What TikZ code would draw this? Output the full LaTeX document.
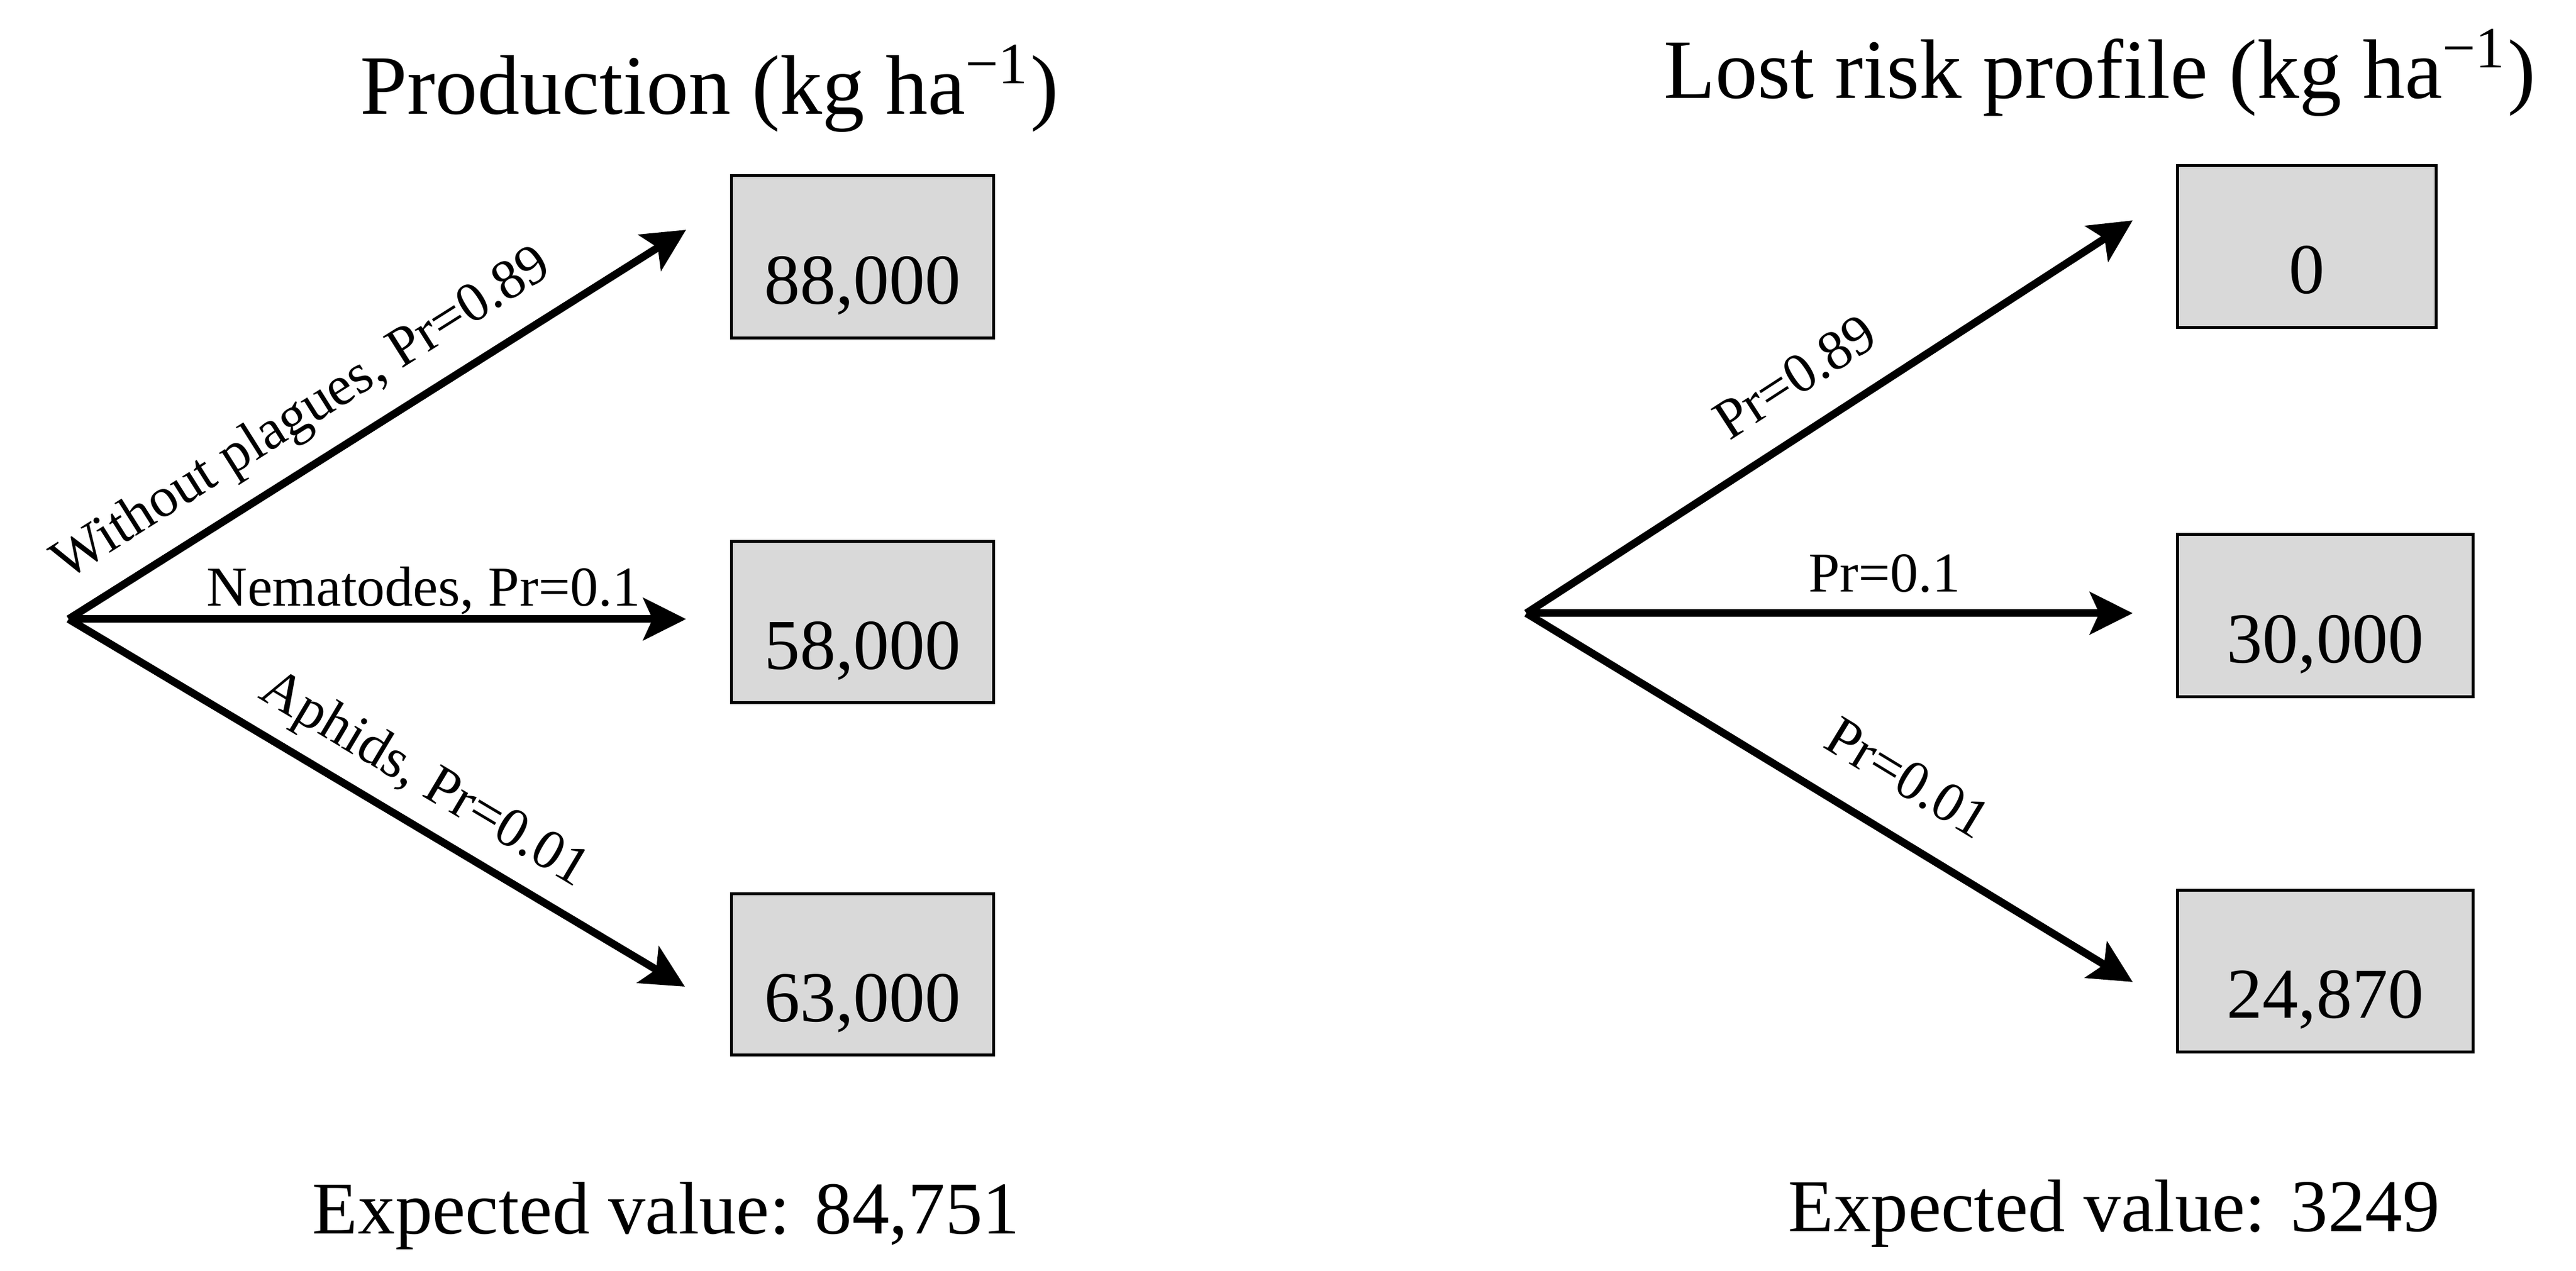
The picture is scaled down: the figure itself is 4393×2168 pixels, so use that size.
\documentclass[tikz,border=0pt]{standalone}
\usepackage{fontspec}
\setmainfont{Liberation Serif}
\usetikzlibrary{arrows.meta}
\definecolor{boxgray}{HTML}{D9D9D9}
\begin{document}
\begin{tikzpicture}[x=0.1pt, y=-0.1pt,
  valbox/.style={draw=black, line width=0.5pt, fill=boxgray, inner sep=0pt,
    text height=17pt, text depth=1pt, font=\fontsize{12.2pt}{14pt}\selectfont},
  branch/.style={line width=1.3pt, -{Stealth[length=7.3pt, width=7.2pt, inset=1.6pt]}},
  blabel/.style={sloped, anchor=base, inner sep=0pt, font=\fontsize{9.6pt}{11pt}\selectfont},
  titletext/.style={anchor=base, inner sep=0pt, font=\fontsize{14.4pt}{17pt}\selectfont},
  evtext/.style={anchor=base, inner sep=0pt, font=\fontsize{12.7pt}{15pt}\selectfont}]
\useasboundingbox (0,0) rectangle (4393,2168);

% ---------- left tree ----------
\node[titletext] (t1) at (1210,195) {Production (kg ha\textsuperscript{\char"2212 1})};
\coordinate (o1) at (117,1056);
\coordinate (a1) at (1170,392);
\coordinate (b1) at (1170,1056);
\coordinate (c1) at (1168,1683);
\node[valbox, minimum width=44.8pt, minimum height=27.7pt] (v11) at (1471,438.5) {88,000};
\node[valbox, minimum width=44.8pt, minimum height=27.5pt] (v12) at (1471,1061.5) {58,000};
\node[valbox, minimum width=44.8pt, minimum height=27.5pt] (v13) at (1471,1662.5) {63,000};
\draw[branch] (o1) -- (a1) node[blabel, pos=0.42, yshift=5.8pt] {Without plagues, Pr=0.89};
\draw[branch] (o1) -- (b1) node[blabel, pos=0.575, yshift=2.2pt] {Nematodes, Pr=0.1};
\draw[branch] (o1) -- (c1) node[blabel, pos=0.54, yshift=5.0pt] {Aphids, Pr=0.01};
\node[evtext] (e1) at (1136,2105) {Expected value: 84,751};

% ---------- right tree ----------
\node[titletext] (t2) at (3581,168) {Lost risk profile (kg ha\textsuperscript{\char"2212 1})};
\coordinate (o2) at (2603,1046);
\coordinate (a2) at (3637,376);
\coordinate (b2) at (3637,1046);
\coordinate (c2) at (3637,1675);
\node[valbox, minimum width=44.2pt, minimum height=27.6pt] (v21) at (3934,421) {0};
\node[valbox, minimum width=50.5pt, minimum height=27.7pt] (v22) at (3965.5,1050.5) {30,000};
\node[valbox, minimum width=50.5pt, minimum height=27.6pt] (v23) at (3965.5,1657) {24,870};
\draw[branch] (o2) -- (a2) node[blabel, pos=0.49, yshift=5.8pt] {Pr=0.89};
\draw[branch] (o2) -- (b2) node[blabel, pos=0.591, yshift=3.6pt] {Pr=0.1};
\draw[branch] (o2) -- (c2) node[blabel, pos=0.58, yshift=6.7pt] {Pr=0.01};
\node[evtext] (e2) at (3605,2101) {Expected value: 3249};
\end{tikzpicture}
\end{document}
